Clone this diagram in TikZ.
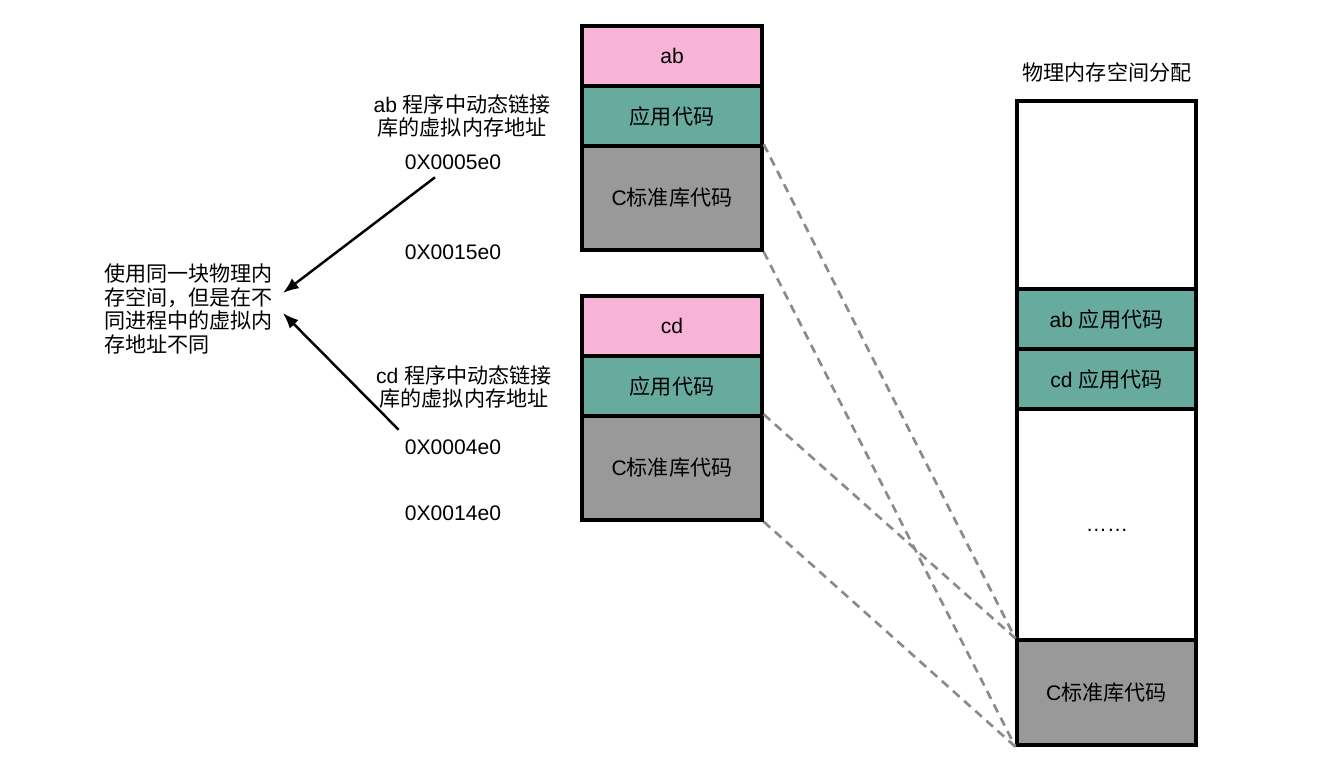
\documentclass[tikz,border=0pt]{standalone}
\usepackage{fontspec}
\setmainfont{Noto Sans CJK SC}
\newfontfamily\en{Liberation Sans}
\usepackage{xcolor}
\usepackage{tikz}
\usetikzlibrary{calc}
\usetikzlibrary{arrows.meta}
\usetikzlibrary{positioning}
\definecolor{namepink}{HTML}{F8B4D6}
\definecolor{appteal}{HTML}{67AB9F}
\definecolor{libgray}{HTML}{999999}
\tikzset{>={Latex[length=9pt,width=7pt]}}
\tikzset{seg/.style = {rectangle, draw=black, line width=1.9pt, minimum width=3.6cm, inner sep=0pt, font=\fontsize{12}{14}\selectfont}}
\tikzset{map/.style = {-, draw=libgray!90!black, line width=1.5pt, dash pattern=on 5pt off 3.5pt}}
\tikzset{lbl/.style = {draw=none, align=center, inner sep=0pt, font=\fontsize{12}{13}\selectfont}}

\begin{document}
\begin{tikzpicture}
\useasboundingbox (0,0) rectangle (26.7,-15.54);
% ab process
\node [seg, fill=namepink, minimum height=1.2cm] (abName) at (13.44,-1.12) {\en ab};
\node [seg, fill=appteal, minimum height=1.2cm] (abApp) at (13.44,-2.32) {应用代码};
\node [seg, fill=libgray, minimum height=2.08cm] (abLib) at (13.44,-3.96) {{\en C}标准库代码};
% cd process
\node [seg, fill=namepink, minimum height=1.2cm] (cdName) at (13.44,-6.52) {\en cd};
\node [seg, fill=appteal, minimum height=1.2cm] (cdApp) at (13.44,-7.72) {应用代码};
\node [seg, fill=libgray, minimum height=2.08cm] (cdLib) at (13.44,-9.36) {{\en C}标准库代码};
% physical memory
\node [lbl] (phyTitle) at (22.14,-1.44) {物理内存空间分配};
\node [seg, fill=white, minimum width=3.58cm, minimum height=3.76cm] (phyFree) at (22.13,-3.9) {};
\node [seg, fill=appteal, minimum width=3.58cm, minimum height=1.2cm] (phyAb) at (22.13,-6.38) {{\en ab }应用代码};
\node [seg, fill=appteal, minimum width=3.58cm, minimum height=1.2cm] (phyCd) at (22.13,-7.58) {{\en cd }应用代码};
\node [seg, fill=white, minimum width=3.58cm, minimum height=4.62cm] (phyRest) at (22.13,-10.49) {};
\node [draw=none, font=\fontsize{12}{14}\selectfont\en] (dots) at (22.14,-10.6) {……};
\node [seg, fill=libgray, minimum width=3.58cm, minimum height=2.1cm] (phyLib) at (22.13,-13.85) {{\en C}标准库代码};
% labels
\node [lbl] (abLabel) at (9.24,-2.32) {{\en ab }程序中动态链接\\库的虚拟内存地址};
\node [lbl] (addrA) at (9.06,-3.24) {\en 0X0005e0};
\node [lbl] (addrB) at (9.06,-5.04) {\en 0X0015e0};
\node [lbl] (cdLabel) at (9.28,-7.74) {{\en cd }程序中动态链接\\库的虚拟内存地址};
\node [lbl] (addrC) at (9.06,-8.94) {\en 0X0004e0};
\node [lbl] (addrD) at (9.06,-10.26) {\en 0X0014e0};
\node [lbl, align=left, anchor=west, font=\fontsize{12}{13.6}\selectfont] (note) at (2.08,-6.18) {使用同一块物理内\\存空间，但是在不\\同进程中的虚拟内\\存地址不同};
% arrows
\draw [->, line width=1.4pt] ([xshift=-0.36cm,yshift=-0.15cm]addrA.south) to ([xshift=0.19cm,yshift=0.32cm]note.east);
\draw [->, line width=1.4pt] ([xshift=-0.12cm,yshift=0.19cm]addrC.north west) to ([xshift=0.19cm,yshift=-0.08cm]note.east);
% mappings
\draw [map] (abLib.north east) to (phyLib.north west);
\draw [map] (abLib.south east) to (phyLib.south west);
\draw [map] (cdLib.north east) to (phyLib.north west);
\draw [map] (cdLib.south east) to (phyLib.south west);
\end{tikzpicture}
\end{document}
